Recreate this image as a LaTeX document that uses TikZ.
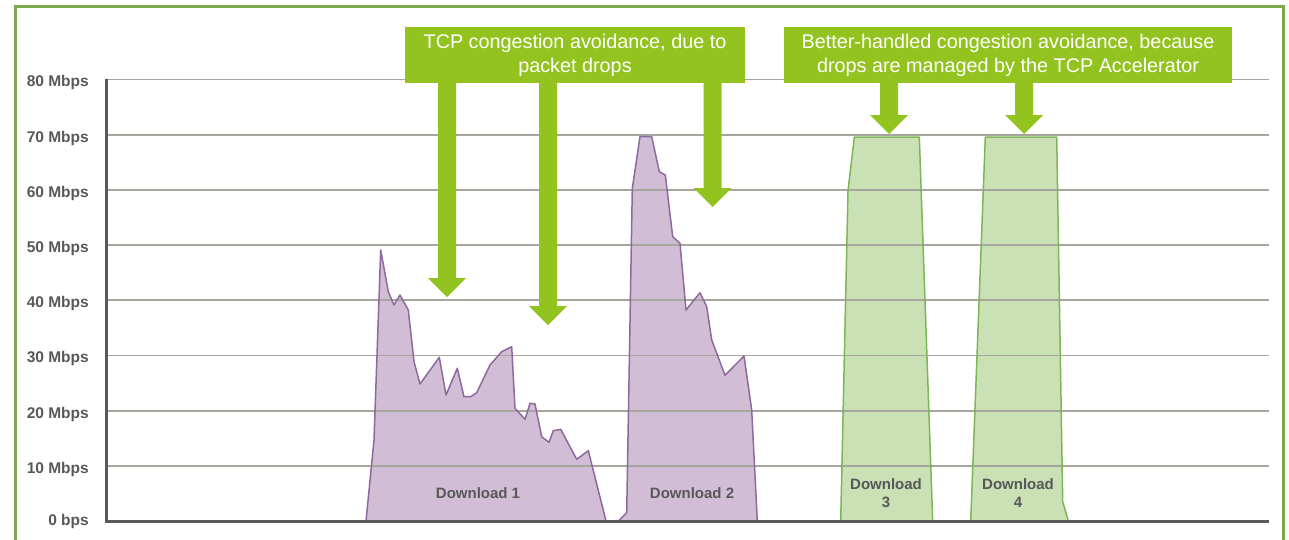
\documentclass[tikz,border=0pt]{standalone}
\usepackage{fontspec}
\setmainfont{Liberation Sans}
\usetikzlibrary{calc}
\definecolor{framegreen}{HTML}{7BAA4A}
\definecolor{boxgreen}{HTML}{93C31F}
\definecolor{gridgray}{HTML}{A6A69E}
\definecolor{axisgray}{HTML}{5A5A5A}
\definecolor{labelgray}{HTML}{585858}
\definecolor{purplefill}{HTML}{D2BDD7}
\definecolor{purpleline}{HTML}{8D6A9D}
\definecolor{greenfill}{HTML}{C9E1B5}
\definecolor{greenline}{HTML}{7DB654}
\begin{document}
\begin{tikzpicture}[x=1pt,y=-1pt,
  ylab/.style={anchor=east, font=\fontsize{15.5}{17}\selectfont\bfseries, text=labelgray, inner sep=0pt},
  dlab/.style={font=\fontsize{15}{18}\selectfont\bfseries, text=labelgray, align=center, inner sep=0pt},
  callout/.style={fill=boxgreen, text=white, font=\fontsize{19.8}{24}\selectfont, align=center, inner sep=0pt, minimum height=56pt},
  gridline/.style={draw=gridgray, line width=1.8pt},
  purplearea/.style={fill=purplefill},
  purpleedge/.style={draw=purpleline, line width=1.5pt, line join=round},
  greenarea/.style={fill=greenfill},
  greenedge/.style={draw=greenline, line width=1.5pt, line join=round},
  blockarrow/.style={fill=boxgreen}
]
\useasboundingbox (0,0) rectangle (1289,539);
% frame
\draw[framegreen, line width=3pt] (15.5,545) -- (15.5,6) -- (1283,6) -- (1283,545);

% series shapes
\def\dlone{(366,521) -- (374,440) -- (380.7,250) -- (388.3,291.7) -- (394,305) -- (400,295) -- (408.3,310) -- (414,361.7) -- (420,384) -- (439.3,357.3) -- (446,395) -- (457.3,368.3) -- (464,396.7) -- (470.7,396.7) -- (476.7,392.7) -- (490,365) -- (501.7,351.7) -- (511.7,346.7) -- (515,408.3) -- (525,419.3) -- (530,403.3) -- (535,404) -- (541.7,436.7) -- (549,442.3) -- (553.3,430.7) -- (560.7,429.3) -- (576.7,459.3) -- (588.3,450.7) -- (606,521)}
\def\dltwo{(618.3,521) -- (626.7,512.7) -- (632.3,188.3) -- (640,136.7) -- (651.7,136.7) -- (659.3,171.7) -- (665.3,175) -- (672.7,236.7) -- (680,243.3) -- (686,310) -- (700,292.7) -- (706.7,306.7) -- (711.7,340) -- (725,375.3) -- (744,356) -- (751.7,410) -- (757.3,521)}
\def\dlthree{(840.7,521) -- (848,190.7) -- (854.3,137) -- (919.3,137) -- (932.7,521)}
\def\dlfour{(970.7,521) -- (985.3,137) -- (1056.7,137) -- (1062.7,501.7) -- (1068.3,521)}
\fill[purplearea] \dlone -- cycle;
\fill[purplearea] \dltwo -- cycle;
\fill[greenarea] \dlthree -- cycle;
\fill[greenarea] \dlfour -- cycle;

% grid and y labels
\foreach \v/\t in {10/10 Mbps,20/20 Mbps,30/30 Mbps,40/40 Mbps,50/50 Mbps,60/60 Mbps,70/70 Mbps,80/80 Mbps}{
  \draw[gridline] (105,{521-5.52*\v}) -- (1269,{521-5.52*\v});
  \node[ylab] (yl\v) at (89,{524.5-5.52*\v}) {\t};
}
\node[ylab] (yl0) at (89,521) {0 bps};

\draw[purpleedge] \dlone;
\draw[purpleedge] \dltwo;
\draw[greenedge] \dlthree;
\draw[greenedge] \dlfour;

% axes
\draw[axisgray, line width=3pt] (106,78.5) -- (106,521) -- (1269,521);

% series labels
\node[dlab] (d1) at (478,493) {Download 1};
\node[dlab] (d2) at (692,493) {Download 2};
\node[dlab] (d3) at (886,493) {Download\\3};
\node[dlab] (d4) at (1018,493) {Download\\4};

% callouts
\node[callout, minimum width=340pt] (b1) at (575,55) {TCP congestion avoidance, due to\\packet drops};
\node[callout, minimum width=448pt] (b2) at (1008,55) {Better-handled congestion avoidance, because\\drops are managed by the TCP Accelerator};

\coordinate (t1) at (447,297);
\coordinate (t2) at (548,325);
\coordinate (t3) at (712.5,207);
\coordinate (t4) at (889,134);
\coordinate (t5) at (1024,134);

\foreach \t/\b in {t1/b1,t2/b1,t3/b1,t4/b2,t5/b2}{
  \fill[blockarrow] ($(\t |- \b.south)+(-9,-2)$) -- ($(\t)+(-9,-19)$) -- ($(\t)+(-19,-19)$) -- (\t) -- ($(\t)+(19,-19)$) -- ($(\t)+(9,-19)$) -- ($(\t |- \b.south)+(9,-2)$) -- cycle;
}
\end{tikzpicture}
\end{document}
